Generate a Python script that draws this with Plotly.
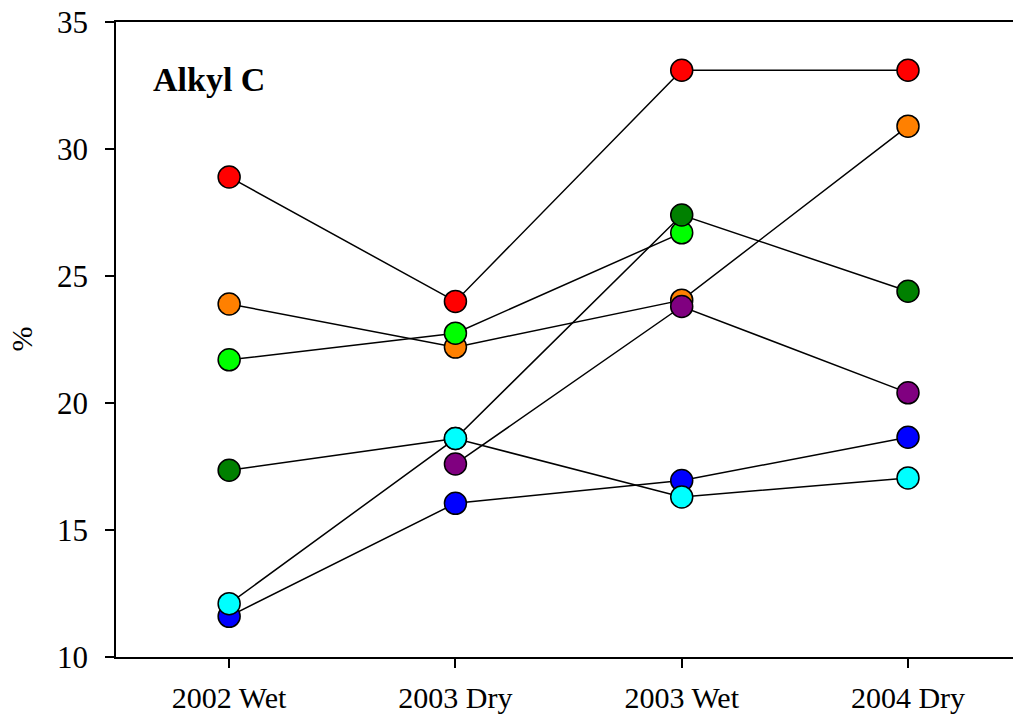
import plotly.graph_objects as go

categories = ["2002 Wet", "2003 Dry", "2003 Wet", "2004 Dry"]
x_pos = [0, 1, 2, 3]

red = [28.9, 24.0, 33.1, 33.1]
orange = [23.9, 22.2, 24.05, 30.9]
lime = [21.7, 22.75, 26.7, None]
dark_green = [17.35, 18.6, 27.4, 24.4]
blue = [11.6, 16.05, 16.95, 18.65]
cyan = [12.1, 18.6, 16.3, 17.05]
purple = [None, 17.6, 23.8, 20.4]

series = [
    ("Series 1", red, "#FF0000"),
    ("Series 2", orange, "#FF8000"),
    ("Series 3", lime, "#00FF00"),
    ("Series 4", dark_green, "#008000"),
    ("Series 5", blue, "#0000FF"),
    ("Series 6", cyan, "#00FFFF"),
    ("Series 7", purple, "#800080"),
]

y_ticks = [10, 15, 20, 25, 30, 35]

FONT = "Liberation Serif, Times New Roman, serif"

fig = go.Figure()
for name, vals, color in series:
    fig.add_trace(go.Scatter(
        x=x_pos, y=vals, name=name, mode="lines+markers",
        line=dict(color="black", width=1.5),
        marker=dict(size=22, color=color, line=dict(color="black", width=1.5)),
        connectgaps=False,
    ))

fig.update_layout(
    width=1013, height=717,
    margin=dict(l=116, r=0, t=22, b=60),
    plot_bgcolor="white", paper_bgcolor="white",
    showlegend=False,
    font=dict(family=FONT, size=30, color="black"),
    xaxis=dict(
        range=[-0.5, 3.464], tickvals=x_pos, ticktext=categories,
        showgrid=False, zeroline=False, automargin=False,
        showline=True, linecolor="black", linewidth=1.5, mirror=True,
        ticks="outside", ticklen=9, tickwidth=1.5, tickcolor="black",
        ticklabelstandoff=4,
        tickfont=dict(family=FONT, size=30),
    ),
    yaxis=dict(
        range=[10, 35], tickvals=y_ticks,
        showgrid=False, zeroline=False, automargin=False,
        showline=True, linecolor="black", linewidth=1.5,
        ticks="outside", ticklen=9, tickwidth=1.5, tickcolor="black",
        ticklabelstandoff=11,
        tickfont=dict(family=FONT, size=31),
    ),
    annotations=[
        dict(text="%", xref="paper", yref="paper", x=(21 - 116) / 897, y=0.5,
             textangle=-90, showarrow=False, xanchor="center", yanchor="middle",
             font=dict(family=FONT, size=30)),
        dict(text="<b>Alkyl C</b>", xref="paper", yref="paper",
             x=(151 - 116) / 897, y=(657.5 - 80) / 635,
             showarrow=False, xanchor="left", yanchor="middle",
             font=dict(family=FONT, size=34)),
    ],
)

fig.write_html("out.html")
